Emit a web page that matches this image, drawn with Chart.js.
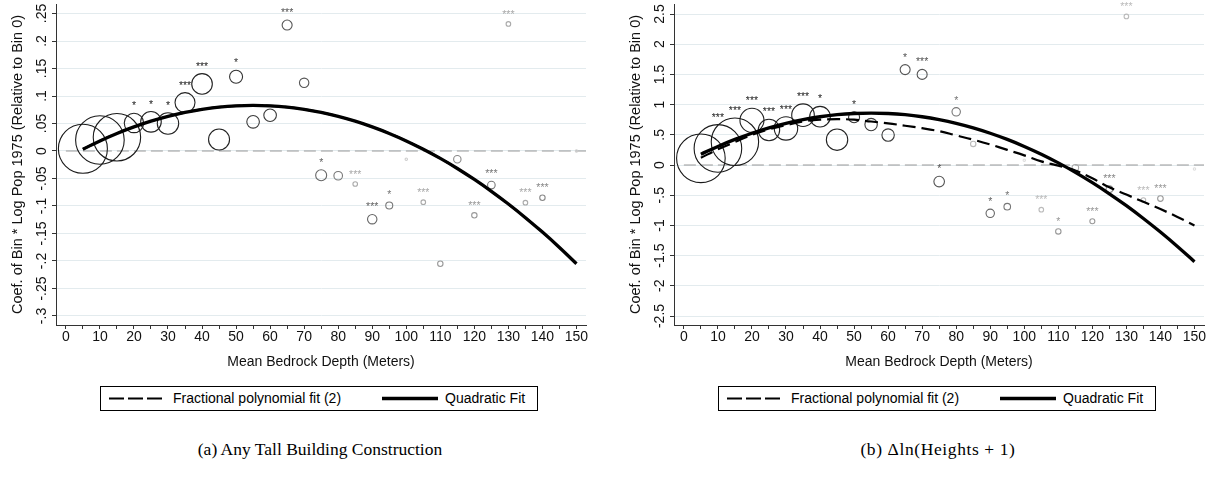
<!DOCTYPE html>
<html><head><meta charset="utf-8">
<script src="https://cdn.jsdelivr.net/npm/chart.js@4.4.1/dist/chart.umd.min.js"></script>
<style>
html,body{margin:0;padding:0;background:#fff;width:1220px;height:478px;overflow:hidden;position:relative;font-family:"Liberation Sans",Arial,sans-serif;}
#wrapA{position:absolute;left:0;top:0;width:610px;height:380px;}
#wrapB{position:absolute;left:618px;top:0;width:602px;height:380px;}
.legend{position:absolute;border:1px solid #000;height:25px;box-sizing:border-box;font-size:14px;color:#000;}
.legend .item{position:absolute;top:0;height:23px;line-height:23px;white-space:nowrap;}
.legend svg{position:absolute;top:0;}
.caption{position:absolute;font-family:"Liberation Serif","Times New Roman",serif;font-size:17.5px;line-height:22px;color:#000;white-space:nowrap;transform:translateX(-50%);}
</style></head>
<body>
<div id="wrapA"><canvas id="cA" width="610" height="380"></canvas></div>
<div id="wrapB"><canvas id="cB" width="602" height="380"></canvas></div>

<div class="legend" style="left:100px;top:386px;width:438px;">
  <svg width="60" height="23" style="left:6px"><line x1="2" y1="11.5" x2="55" y2="11.5" stroke="#000" stroke-width="2" stroke-dasharray="15 4"/></svg>
  <span class="item" style="left:72px">Fractional polynomial fit (2)</span>
  <svg width="62" height="23" style="left:279px"><line x1="2" y1="11.5" x2="58" y2="11.5" stroke="#000" stroke-width="3.3"/></svg>
  <span class="item" style="left:344px">Quadratic Fit</span>
</div>
<div class="legend" style="left:718px;top:386px;width:438px;">
  <svg width="60" height="23" style="left:6px"><line x1="2" y1="11.5" x2="55" y2="11.5" stroke="#000" stroke-width="2" stroke-dasharray="15 4"/></svg>
  <span class="item" style="left:72px">Fractional polynomial fit (2)</span>
  <svg width="62" height="23" style="left:279px"><line x1="2" y1="11.5" x2="58" y2="11.5" stroke="#000" stroke-width="3.3"/></svg>
  <span class="item" style="left:344px">Quadratic Fit</span>
</div>
<div class="caption" style="left:320px;top:438px">(a) Any Tall Building Construction</div>
<div class="caption" style="left:938px;top:438px;letter-spacing:0.6px">(b) Δln(Heights + 1)</div>

<script>
// ---------- DATA ----------
const xTicks = [0,5,10,15,20,25,30,35,40,45,50,55,60,65,70,75,80,85,90,95,100,105,110,115,120,125,130,135,140,145,150];
const xTickLabels = ["0","","10","","20","","30","","40","","50","","60","","70","","80","","90","","100","","110","","120","","130","","140","","150"];

const leftYTicks = [0.25,0.2,0.15,0.1,0.05,0,-0.05,-0.1,-0.15,-0.2,-0.25,-0.3];
const leftYTickLabels = [".25",".2",".15",".1",".05","0","-.05","-.1","-.15","-.2","-.25","-.3"];
const rightYTicks = [2.5,2,1.5,1,0.5,0,-0.5,-1,-1.5,-2,-2.5];
const rightYTickLabels = ["2.5","2","1.5","1",".5","0","-.5","-1","-1.5","-2","-2.5"];

// bin midpoints (mean bedrock depth)
const bins = [5,10,15,20,25,30,35,40,45,50,55,60,65,70,75,80,85,90,95,100,105,110,115,120,125,130,135,140,150];

// panel (a) coefficients, bubble weights, significance
const leftCoef = [0.004,0.020,0.025,0.051,0.053,0.050,0.088,0.122,0.021,0.135,0.053,0.065,0.229,0.124,-0.044,-0.045,-0.060,-0.124,-0.099,-0.015,-0.093,-0.205,-0.015,-0.117,-0.062,0.231,-0.094,-0.085,0.000];
const leftWeight = [24.5,24.3,23.7,9.7,10.3,10.7,10,10.3,10.5,6.5,6.3,6.3,5,4.7,5.5,4.3,2.3,4.7,3.5,1.2,2.3,2.7,3.7,2.7,3.8,2.3,2.3,2.7,1.2];
const leftStars = ["","","","*","*","*","***","***","","*","","","***","","*","","***","***","*","","***","","","***","***","***","***","***",""];

// panel (b)
const rightCoef = [0.11,0.275,0.385,0.74,0.58,0.605,0.825,0.80,0.42,0.79,0.67,0.495,1.58,1.50,-0.275,0.88,0.35,-0.80,-0.69,0.08,-0.74,-1.10,-0.045,-0.93,-0.40,2.46,-0.58,-0.556,-0.066];
const rightWeight = [24.3,23.8,23.7,12,10.7,11.7,11.3,10.3,10.7,5.5,6.2,6.2,5,5,5.3,4.2,2.7,4.2,3.3,1.2,2.3,2.7,3.3,2.5,3.3,2.3,2.3,2.8,1.2];
const rightStars = ["","***","***","***","***","***","***","*","","*","","","*","***","*","*","","*","*","","***","*","","***","***","***","***","***",""];

// fitted curves
const fitX = [5,10,15,20,25,30,35,40,45,50,55,60,65,70,75,80,85,90,95,100,105,110,115,120,125,130,135,140,145,150];
const leftQuad = [0.0032,0.0184,0.0320,0.0439,0.0543,0.0631,0.0702,0.0758,0.0798,0.0822,0.0830,0.0822,0.0798,0.0758,0.0702,0.0631,0.0543,0.0439,0.0320,0.0184,0.0032,-0.0135,-0.0318,-0.0518,-0.0733,-0.0964,-0.1212,-0.1475,-0.1754,-0.2049];
const leftFP = [0.0032,0.0184,0.0320,0.0439,0.0543,0.0631,0.0702,0.0758,0.0798,0.0822,0.0830,0.0822,0.0798,0.0758,0.0702,0.0631,0.0543,0.0439,0.0320,0.0184,0.0032,-0.0135,-0.0318,-0.0518,-0.0733,-0.0964,-0.1212,-0.1475,-0.1754,-0.2049];
const rightQuad = [0.1785,0.308,0.424,0.526,0.615,0.690,0.751,0.799,0.833,0.853,0.860,0.853,0.833,0.799,0.751,0.690,0.615,0.526,0.424,0.308,0.1785,0.035,-0.121,-0.292,-0.476,-0.673,-0.885,-1.110,-1.348,-1.600];
const rightFP = [0.12,0.26,0.38,0.50,0.59,0.66,0.72,0.75,0.76,0.75,0.72,0.69,0.65,0.61,0.56,0.49,0.42,0.34,0.25,0.16,0.06,-0.01,-0.09,-0.22,-0.37,-0.49,-0.61,-0.73,-0.86,-1.00];

// ---------- STYLE ----------
const leftShade = ['#1a1a1a','#1a1a1a','#1a1a1a','#222','#222','#222','#222','#222','#222','#333','#3a3a3a','#3a3a3a','#555','#555','#666','#777','#aaa','#666','#777','#ccc','#aaa','#999','#888','#999','#777','#aaa','#aaa','#888','#ccc'];
const rightShade = ['#1a1a1a','#1a1a1a','#1a1a1a','#222','#222','#222','#222','#222','#222','#333','#3a3a3a','#3a3a3a','#555','#555','#555','#777','#bbb','#666','#777','#ddd','#bbb','#999','#aaa','#999','#888','#bbb','#bbb','#999','#ddd'];

const FONT = '"Liberation Sans", Arial, sans-serif';
Chart.defaults.font.family = FONT;

const stataPlugin = {
  id: 'stata',
  beforeDatasetsDraw(chart, args, opts) {
    const {ctx, chartArea, scales:{x, y}} = chart;
    const y0 = y.getPixelForValue(0);
    ctx.save();
    ctx.strokeStyle = '#9a9a9a'; ctx.lineWidth = 1.2; ctx.setLineDash([12,5]);
    ctx.beginPath(); ctx.moveTo(x.getPixelForValue(0), y0); ctx.lineTo(chartArea.right, y0); ctx.stroke();
    ctx.restore();
  },
  afterDatasetDraw(chart, args, opts) {
    const ds = chart.data.datasets[args.index];
    if (!ds.stars) return;
    const ctx = chart.ctx;
    ctx.save();
    ctx.font = '10.5px ' + FONT; ctx.textAlign = 'center'; ctx.textBaseline = 'alphabetic';
    args.meta.data.forEach((el, i) => {
      const s = ds.stars[i]; if (!s) return;
      ctx.fillStyle = ds.shades[i];
      ctx.fillText(s, el.x, el.y - ds.data[i].r - 4);
    });
    ctx.restore();
  },
  afterDraw(chart, args, opts) {
    const {ctx, chartArea, scales:{y}} = chart;
    ctx.save();
    ctx.fillStyle = '#111';
    ctx.textAlign = 'center'; ctx.textBaseline = 'middle';
    ctx.font = '14px ' + FONT;
    y.ticks.forEach((t, i) => {
      const py = y.getPixelForValue(t.value);
      ctx.save(); ctx.translate(chartArea.left - 14, py); ctx.rotate(-Math.PI/2);
      ctx.fillText(opts.yLabels[i], 0, 0); ctx.restore();
    });
    ctx.font = '14.5px ' + FONT;
    ctx.save(); ctx.translate(chartArea.left - 38, (chartArea.top + chartArea.bottom)/2); ctx.rotate(-Math.PI/2);
    ctx.fillText(opts.yTitle, 0, 0); ctx.restore();
    ctx.font = '14px ' + FONT;
    ctx.fillText(opts.xTitle, (chartArea.left + chartArea.right)/2, 362);
    ctx.restore();
  }
};

function makeChart(id, c) {
  const bubbles = c.bx.map((x, i) => ({x: x, y: c.by[i], r: c.br[i]}));
  const pts = ys => fitX.map((x, i) => ({x: x, y: ys[i]}));
  return new Chart(document.getElementById(id), {
    data: { datasets: [
      {type:'line', label:'Quadratic Fit', data: pts(c.quad), borderColor:'#000', borderWidth:3.3, pointRadius:0, tension:0.4, fill:false, order:0},
      {type:'line', label:'Fractional polynomial fit (2)', data: pts(c.fp), borderColor:'#000', borderWidth:2.2, borderDash:[13,6], pointRadius:0, tension:0.4, fill:false, order:1},
      {type:'bubble', label:'bins', data: bubbles, borderColor: ctx => c.shade[ctx.dataIndex], backgroundColor:'rgba(0,0,0,0)', borderWidth:1.1, order:2, stars: c.stars, shades: c.shade}
    ]},
    options: {
      responsive:false, animation:false, events:[],
      layout:{autoPadding:false, padding:{top:4, right:c.padRight, left:0, bottom:0}},
      plugins:{legend:{display:false}, tooltip:{enabled:false}, stata:{yLabels:c.yLabels, yTitle:'Coef. of Bin * Log Pop 1975 (Relative to Bin 0)', xTitle:'Mean Bedrock Depth (Meters)'}},
      scales:{
        x:{type:'linear', min:-2.9, max:152.8,
           afterBuildTicks: s => { s.ticks = xTicks.map(v => ({value:v})); },
           afterFit: s => { s.height = 55; },
           ticks:{autoSkip:false, maxRotation:0, minRotation:0, padding:0, color:'#111', font:{size:14},
                  callback:(v, i) => xTickLabels[i]},
           grid:{drawOnChartArea:false, drawTicks:true, tickLength:4, tickColor:'#333', tickWidth:1},
           border:{display:true, color:'#333', width:1}},
        y:{type:'linear', min:c.ymin, max:c.ymax,
           afterBuildTicks: s => { s.ticks = c.yTicks.map(v => ({value:v})); },
           afterFit: s => { s.width = 56; },
           ticks:{display:false},
           grid:{drawOnChartArea:true, color:'#e3ebee', lineWidth:1, drawTicks:true, tickLength:4, tickColor:'#333', tickWidth:1},
           border:{display:true, color:'#333', width:1}}
      }
    },
    plugins:[stataPlugin]
  });
}

makeChart('cA', {bx:bins, by:leftCoef, br:leftWeight, stars:leftStars, shade:leftShade, quad:leftQuad, fp:leftFP,
  yTicks:leftYTicks, yLabels:leftYTickLabels, ymin:-0.3164, ymax:0.2673, padRight:24});
makeChart('cB', {bx:bins, by:rightCoef, br:rightWeight, stars:rightStars, shade:rightShade, quad:rightQuad, fp:rightFP,
  yTicks:rightYTicks, yLabels:rightYTickLabels, ymin:-2.649, ymax:2.666, padRight:16});
</script>
</body></html>
